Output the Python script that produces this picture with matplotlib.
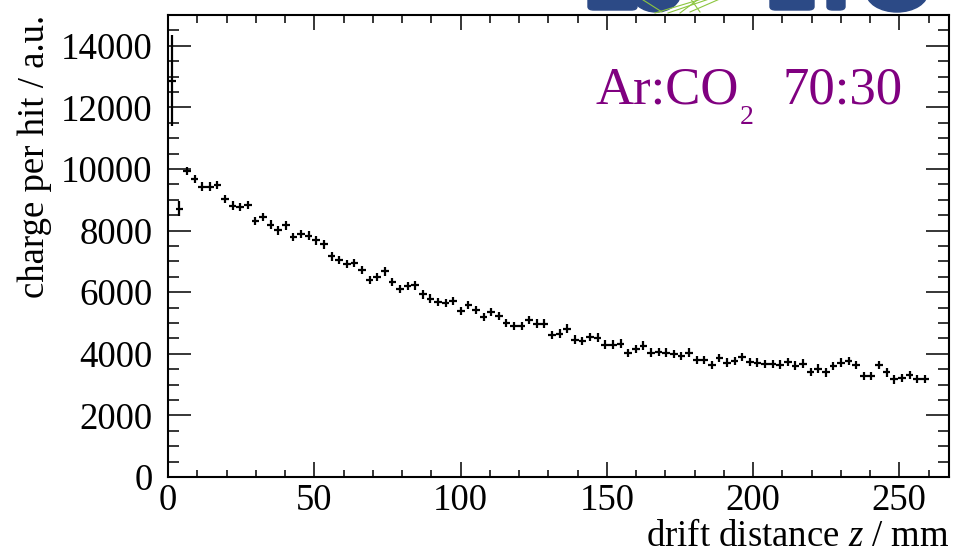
import numpy as np
import matplotlib
matplotlib.use("Agg")
import matplotlib.pyplot as plt
from matplotlib.patches import FancyBboxPatch, Ellipse
from matplotlib.ticker import MultipleLocator

plt.rcParams['font.family'] = ['Liberation Serif', 'DejaVu Serif']
plt.rcParams['mathtext.fontset'] = 'custom'
plt.rcParams['mathtext.rm'] = 'Liberation Serif'
plt.rcParams['mathtext.it'] = 'Liberation Serif:italic'

# drift distance bins (mm), 100 bins from 0 to 260
bin_edges = np.linspace(0, 260, 101)
z = 0.5 * (bin_edges[:-1] + bin_edges[1:])
zerr = 0.5 * np.diff(bin_edges)

# charge per hit (a.u.)
charge = [12865, 8707, 9925, 9679, 9430, 9430, 9485, 9031, 8814, 8759,
          8837, 8305, 8435, 8198, 8004, 8166, 7787, 7880, 7840, 7680,
          7550, 7161, 7054, 6925, 6957, 6730, 6406, 6491, 6675, 6329,
          6115, 6199, 6222, 5930, 5791, 5681, 5648, 5713, 5389, 5574,
          5412, 5194, 5356, 5217, 5000, 4893, 4893, 5088, 4981, 4981,
          4601, 4657, 4819, 4462, 4417, 4546, 4527, 4300, 4300, 4332,
          4028, 4148, 4265, 4041, 4060, 4041, 3986, 3931, 4041, 3791,
          3791, 3629, 3866, 3717, 3769, 3898, 3736, 3717, 3662, 3662,
          3652, 3736, 3618, 3684, 3412, 3522, 3393, 3607, 3717, 3769,
          3629, 3273, 3273, 3629, 3393, 3166, 3218, 3305, 3176, 3176]
charge_err = [1480, 240] + [135] * 98

gas_label = "Ar:CO"
gas_sub = "2"
gas_ratio = "70:30"

W, H = 964, 555
fig = plt.figure(figsize=(W / 100, H / 100), dpi=100)
ax = fig.add_axes([168 / W, 1 - 477 / H, (949 - 168) / W, (477 - 15) / H])

ax.errorbar(z, charge, xerr=zerr, yerr=charge_err, fmt='none',
            ecolor='black', elinewidth=1.6, capsize=0)

ax.set_xlim(0, 267)
ax.set_ylim(0, 15000)
ax.xaxis.set_major_locator(MultipleLocator(50))
ax.xaxis.set_minor_locator(MultipleLocator(10))
ax.yaxis.set_major_locator(MultipleLocator(2000))
ax.yaxis.set_minor_locator(MultipleLocator(500))

for s in ax.spines.values():
    s.set_linewidth(1.5)
ax.tick_params(which='both', direction='in', top=True, right=True,
               width=1.1, labelsize=26.5)
ax.tick_params(axis='x', which='major', length=10.8, pad=5)
ax.tick_params(axis='x', which='minor', length=5.4)
ax.tick_params(axis='y', which='major', length=16.6, pad=11)
ax.tick_params(axis='y', which='minor', length=8)

fig.text(35 / W, 1 - 15 / H, "charge per hit / a.u.", rotation=90,
         ha='center', va='top', fontsize=26.5)
fig.text(950 / W, 1 - 546 / H, "drift distance $z$ / mm",
         ha='right', va='baseline', fontsize=26.5)

purple = '#800080'
fig.text(595 / W, 1 - 103 / H, gas_label, color=purple, fontsize=38,
         ha='left', va='baseline')
fig.text(740 / W, 1 - 124 / H, gas_sub, color=purple, fontsize=20,
         ha='left', va='baseline')
fig.text(903 / W, 1 - 103 / H, gas_ratio, color=purple, fontsize=38,
         ha='right', va='baseline')

# bottom of the logo peeking in at the top
blue = '#2c4a86'
def fx(px): return px / W
def fy(py): return 1 - py / H
for x0, x1 in [(588, 637), (770, 814), (827, 845)]:
    fig.patches.append(FancyBboxPatch((fx(x0), fy(10)), fx(x1 - x0), fy(0) - fy(10) + 0.02,
                                      boxstyle="round,pad=0,rounding_size=0.006",
                                      transform=fig.transFigure, color=blue, zorder=0))
for cx, w in [(656, 50), (897, 62)]:
    fig.patches.append(Ellipse((fx(cx), fy(-8)), fx(w), 2 * (fy(-8) - fy(12)),
                               transform=fig.transFigure, color=blue, zorder=0))
green = '#8cc63e'
for (x0, y0, x1, y1) in [(655, 13, 705, -2), (668, 13, 712, -2), (680, 13, 700, -2),
                         (690, 12, 722, -2), (700, 12, 690, -2), (662, 12, 640, -2)]:
    fig.lines.append(plt.Line2D([fx(x0), fx(x1)], [fy(y0), fy(y1)],
                                transform=fig.transFigure, color=green, lw=0.8, zorder=1))

fig.savefig("out.png", dpi=100)
